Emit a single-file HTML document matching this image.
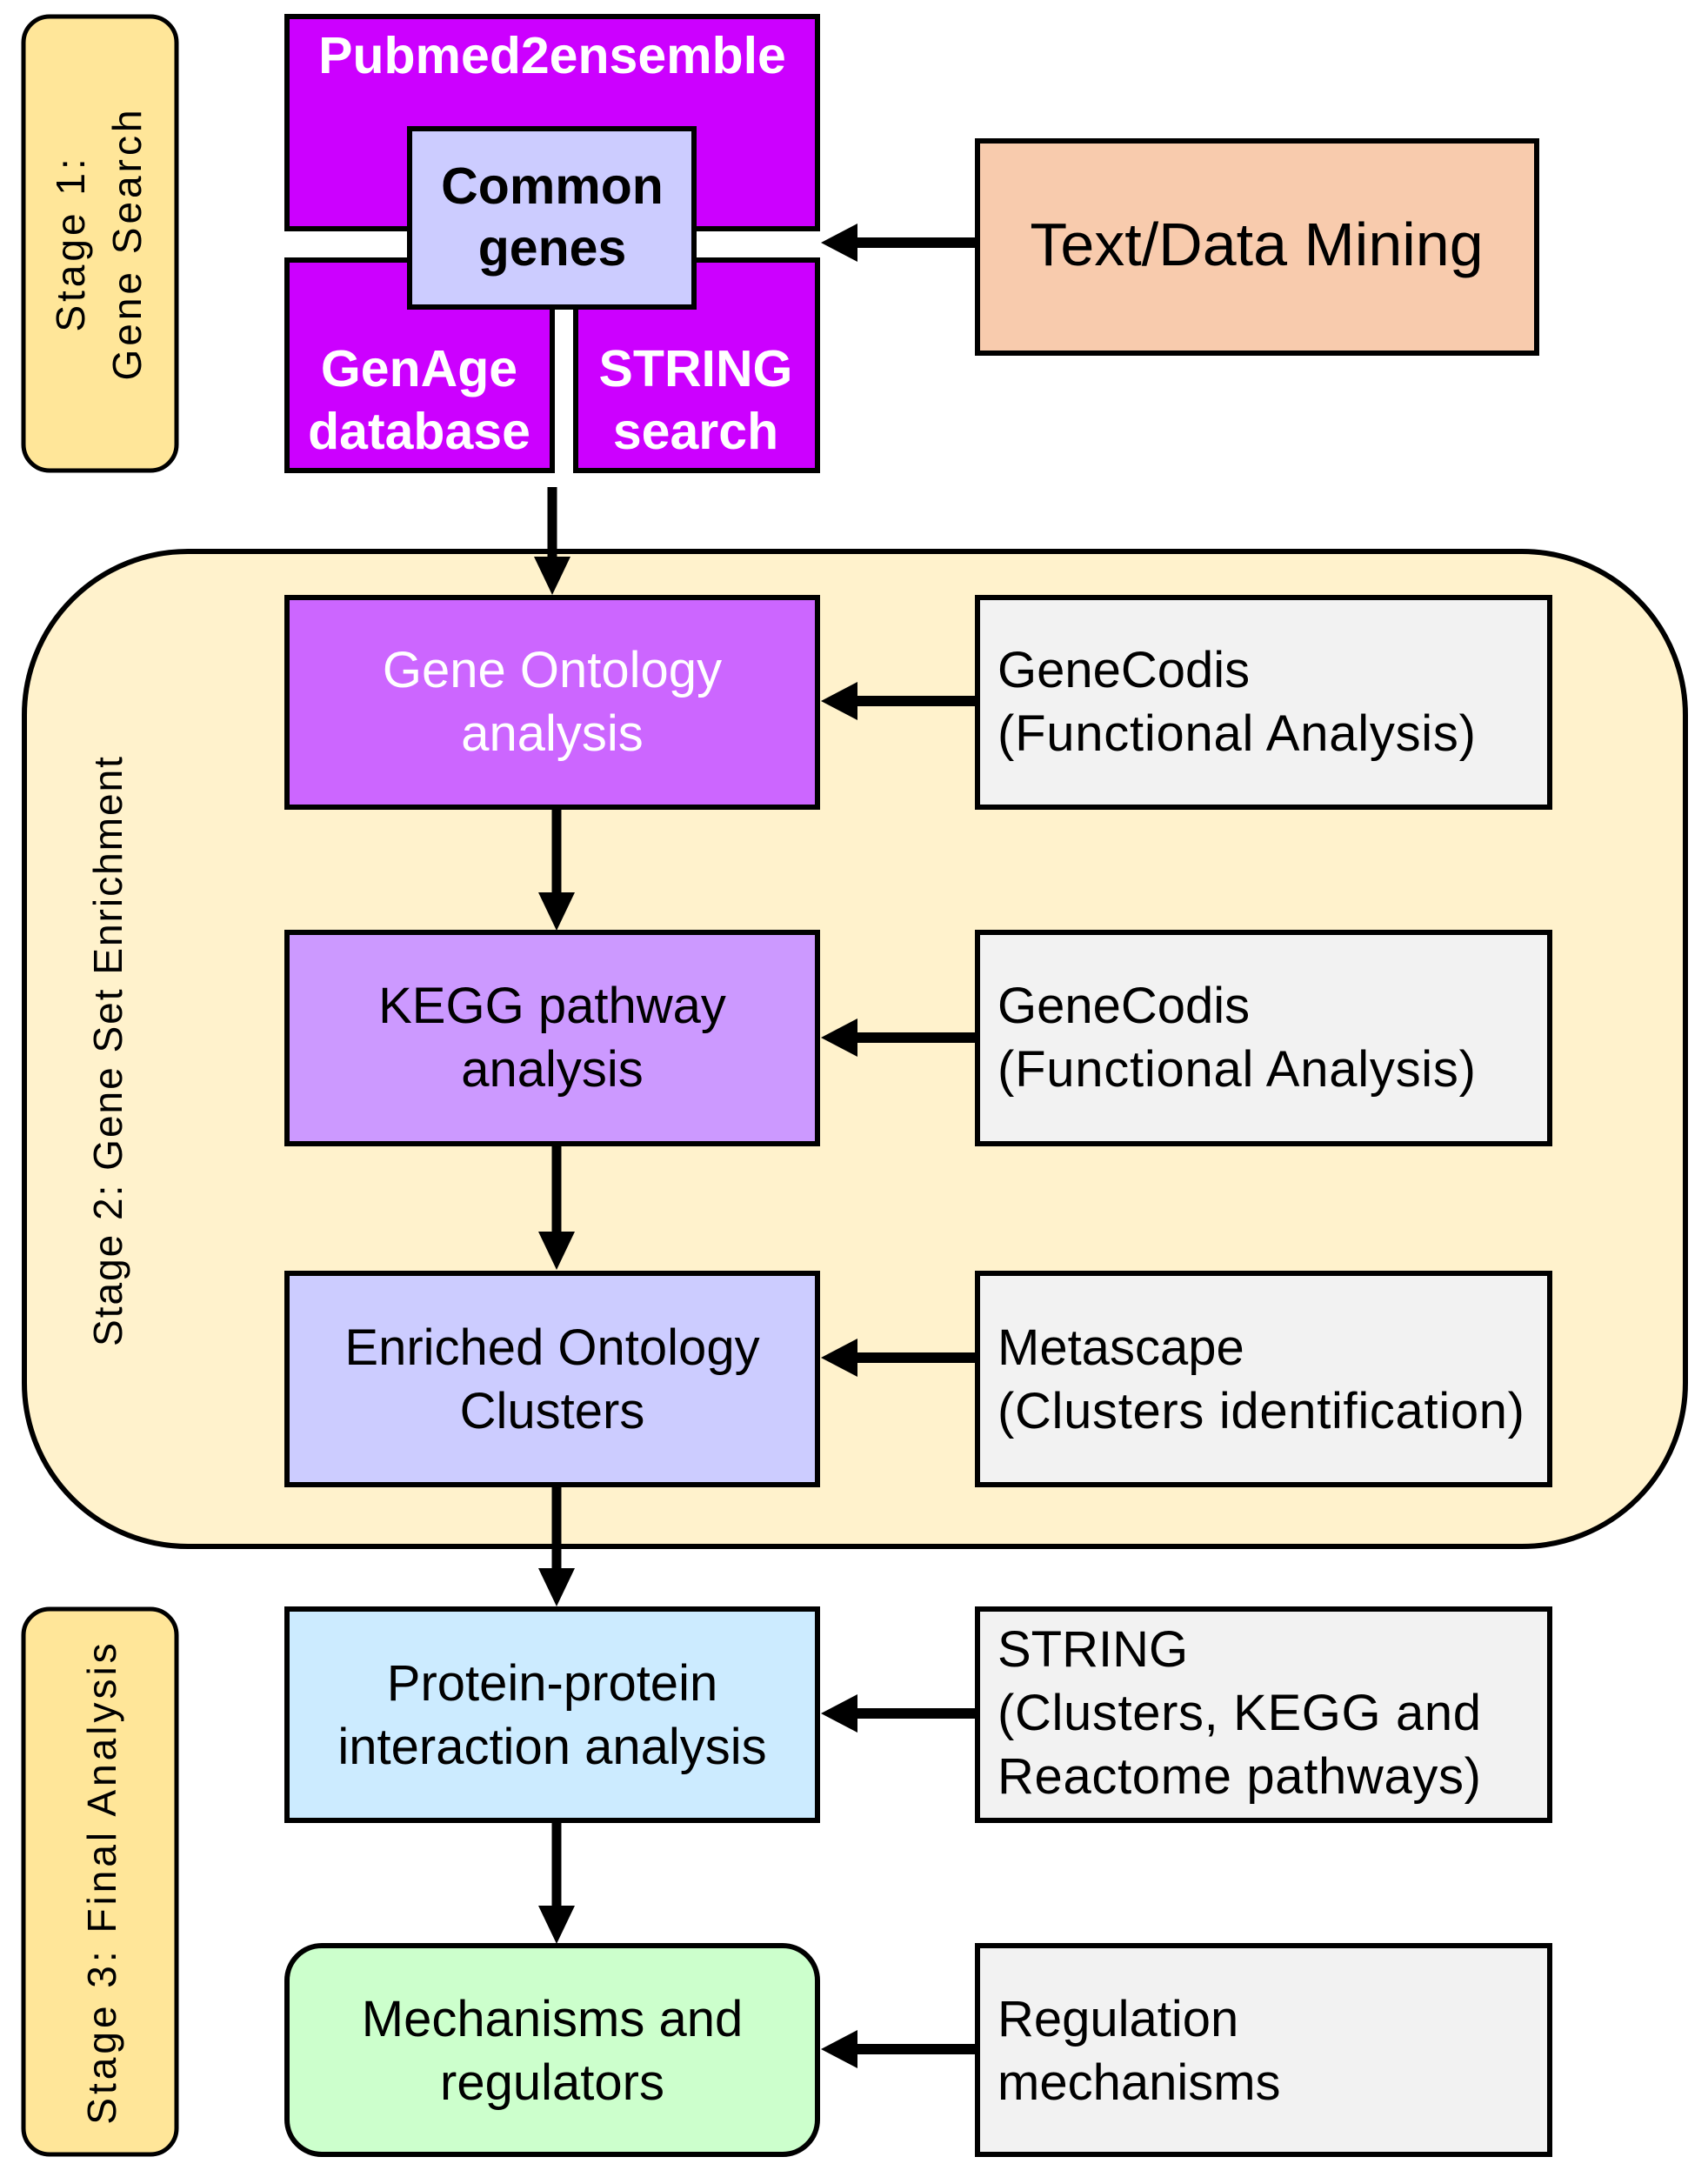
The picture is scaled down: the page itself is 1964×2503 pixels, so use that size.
<!DOCTYPE html>
<html><head><meta charset="utf-8"><style>
html,body{margin:0;padding:0;background:#fff}
svg{display:block}
text{font-family:"Liberation Sans",Arial,sans-serif}
</style></head><body>
<svg width="1964" height="2503" viewBox="0 0 1964 2503" xmlns="http://www.w3.org/2000/svg">
<!-- Stage 1 pill -->
<rect x="27" y="19" width="176" height="522" rx="30" fill="#FFE699" stroke="#000" stroke-width="5"/>
<text transform="translate(97,280) rotate(-90)" text-anchor="middle" font-size="46" fill="#000" letter-spacing="4">Stage 1:</text>
<text transform="translate(162,280) rotate(-90)" text-anchor="middle" font-size="46" fill="#000" letter-spacing="4">Gene Search</text>

<!-- Stage 1 boxes -->
<rect x="330" y="19" width="610" height="244" fill="#CC00FF" stroke="#000" stroke-width="6"/>
<rect x="330" y="299" width="305" height="242" fill="#CC00FF" stroke="#000" stroke-width="6"/>
<rect x="662" y="299" width="278" height="242" fill="#CC00FF" stroke="#000" stroke-width="6"/>
<rect x="471" y="148" width="327" height="205" fill="#CCCCFF" stroke="#000" stroke-width="6"/>
<text x="635" y="84" text-anchor="middle" font-size="59" font-weight="bold" fill="#fff">Pubmed2ensemble</text>
<text x="635" y="234" text-anchor="middle" font-size="59" font-weight="bold" fill="#000">Common</text>
<text x="635" y="305" text-anchor="middle" font-size="59" font-weight="bold" fill="#000">genes</text>
<text x="482" y="444" text-anchor="middle" font-size="59" font-weight="bold" fill="#fff">GenAge</text>
<text x="482" y="516" text-anchor="middle" font-size="59" font-weight="bold" fill="#fff">database</text>
<text x="800" y="444" text-anchor="middle" font-size="59" font-weight="bold" fill="#fff">STRING</text>
<text x="800" y="516" text-anchor="middle" font-size="59" font-weight="bold" fill="#fff">search</text>

<rect x="1124" y="162" width="643" height="244" fill="#F8CBAD" stroke="#000" stroke-width="6"/>
<text x="1445" y="305" text-anchor="middle" font-size="70" fill="#000">Text/Data Mining</text>
<line x1="1124" y1="279" x2="980" y2="279" stroke="#000" stroke-width="12"/>
<polygon points="944,279 986,257 986,301" fill="#000"/>

<!-- Stage 2 container -->
<path d="M216,634 H1750 A188,188 0 0 1 1938,822 V1590 A188,188 0 0 1 1750,1778 H216 A188,188 0 0 1 28,1590 V822 A188,188 0 0 1 216,634 Z" fill="#FFF2CC" stroke="#000" stroke-width="6"/>
<text transform="translate(140,1208) rotate(-90)" text-anchor="middle" font-size="46" fill="#000" letter-spacing="2">Stage 2: Gene Set Enrichment</text>

<line x1="635" y1="560" x2="635" y2="650" stroke="#000" stroke-width="11"/>
<polygon points="635,684 614,640 656,640" fill="#000"/>

<!-- GO -->
<rect x="330" y="687" width="610" height="241" fill="#CC66FF" stroke="#000" stroke-width="6"/>
<text x="635" y="790" text-anchor="middle" font-size="58" fill="#fff">Gene Ontology</text>
<text x="635" y="863" text-anchor="middle" font-size="58" fill="#fff">analysis</text>
<rect x="1124" y="687" width="658" height="241" fill="#F2F2F2" stroke="#000" stroke-width="6"/>
<text x="1147" y="790" font-size="58" fill="#000">GeneCodis</text>
<text x="1147" y="863" font-size="58" fill="#000" textLength="550">(Functional Analysis)</text>
<line x1="1124" y1="806" x2="980" y2="806" stroke="#000" stroke-width="12"/>
<polygon points="944,806 986,784 986,828" fill="#000"/>

<line x1="640" y1="931" x2="640" y2="1035" stroke="#000" stroke-width="11"/>
<polygon points="640,1070 619,1026 661,1026" fill="#000"/>

<!-- KEGG -->
<rect x="330" y="1072" width="610" height="243" fill="#CC99FF" stroke="#000" stroke-width="6"/>
<text x="635" y="1176" text-anchor="middle" font-size="58" fill="#000">KEGG pathway</text>
<text x="635" y="1249" text-anchor="middle" font-size="58" fill="#000">analysis</text>
<rect x="1124" y="1072" width="658" height="243" fill="#F2F2F2" stroke="#000" stroke-width="6"/>
<text x="1147" y="1176" font-size="58" fill="#000">GeneCodis</text>
<text x="1147" y="1249" font-size="58" fill="#000" textLength="550">(Functional Analysis)</text>
<line x1="1124" y1="1193" x2="980" y2="1193" stroke="#000" stroke-width="12"/>
<polygon points="944,1193 986,1171 986,1215" fill="#000"/>

<line x1="640" y1="1318" x2="640" y2="1425" stroke="#000" stroke-width="11"/>
<polygon points="640,1460 619,1416 661,1416" fill="#000"/>

<!-- Enriched -->
<rect x="330" y="1464" width="610" height="243" fill="#CCCCFF" stroke="#000" stroke-width="6"/>
<text x="635" y="1569" text-anchor="middle" font-size="58" fill="#000">Enriched Ontology</text>
<text x="635" y="1642" text-anchor="middle" font-size="58" fill="#000">Clusters</text>
<rect x="1124" y="1464" width="658" height="243" fill="#F2F2F2" stroke="#000" stroke-width="6"/>
<text x="1147" y="1569" font-size="58" fill="#000">Metascape</text>
<text x="1147" y="1642" font-size="58" fill="#000" textLength="606">(Clusters identification)</text>
<line x1="1124" y1="1561" x2="980" y2="1561" stroke="#000" stroke-width="12"/>
<polygon points="944,1561 986,1539 986,1583" fill="#000"/>

<line x1="640" y1="1710" x2="640" y2="1812" stroke="#000" stroke-width="11"/>
<polygon points="640,1847 619,1803 661,1803" fill="#000"/>

<!-- Stage 3 pill -->
<rect x="27" y="1850" width="176" height="627" rx="30" fill="#FFE699" stroke="#000" stroke-width="5"/>
<text transform="translate(133,2164) rotate(-90)" text-anchor="middle" font-size="46" fill="#000" letter-spacing="4">Stage 3: Final Analysis</text>

<!-- PPI -->
<rect x="330" y="1850" width="610" height="243" fill="#CCEBFF" stroke="#000" stroke-width="6"/>
<text x="635" y="1955" text-anchor="middle" font-size="58" fill="#000">Protein-protein</text>
<text x="635" y="2028" text-anchor="middle" font-size="58" fill="#000">interaction analysis</text>
<rect x="1124" y="1850" width="658" height="243" fill="#F2F2F2" stroke="#000" stroke-width="6"/>
<text x="1147" y="1916" font-size="58" fill="#000">STRING</text>
<text x="1147" y="1989" font-size="58" fill="#000" textLength="556">(Clusters, KEGG and</text>
<text x="1147" y="2062" font-size="58" fill="#000" textLength="556">Reactome pathways)</text>
<line x1="1124" y1="1970" x2="980" y2="1970" stroke="#000" stroke-width="12"/>
<polygon points="944,1970 986,1948 986,1992" fill="#000"/>

<line x1="640" y1="2096" x2="640" y2="2200" stroke="#000" stroke-width="11"/>
<polygon points="640,2235 619,2191 661,2191" fill="#000"/>

<!-- Mechanisms -->
<rect x="330" y="2237" width="610" height="240" rx="40" fill="#CCFFCC" stroke="#000" stroke-width="6"/>
<text x="635" y="2341" text-anchor="middle" font-size="58" fill="#000">Mechanisms and</text>
<text x="635" y="2414" text-anchor="middle" font-size="58" fill="#000">regulators</text>
<rect x="1124" y="2237" width="658" height="240" fill="#F2F2F2" stroke="#000" stroke-width="6"/>
<text x="1147" y="2341" font-size="58" fill="#000">Regulation</text>
<text x="1147" y="2414" font-size="58" fill="#000">mechanisms</text>
<line x1="1124" y1="2356" x2="980" y2="2356" stroke="#000" stroke-width="12"/>
<polygon points="944,2356 986,2334 986,2378" fill="#000"/>
</svg>
</body></html>
